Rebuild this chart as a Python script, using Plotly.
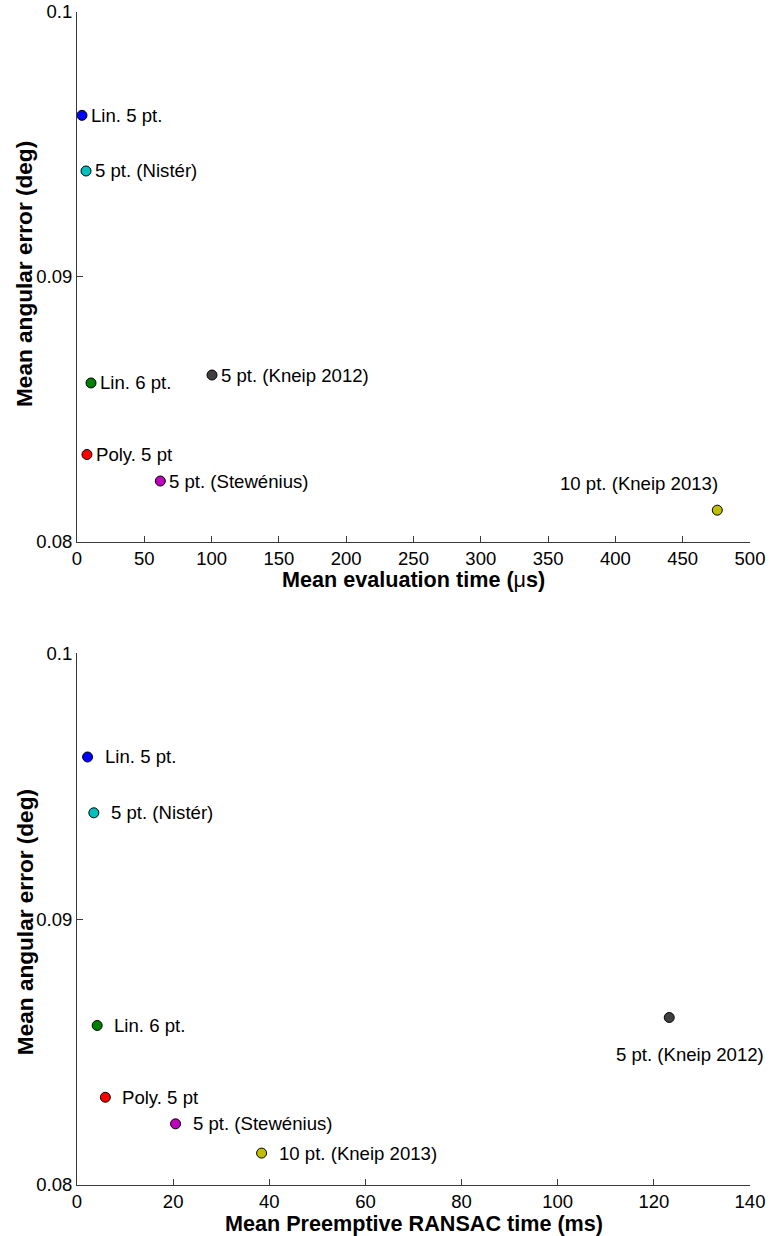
import plotly.graph_objects as go

# ---- data ----
methods = ["Lin. 5 pt.", "5 pt. (Nistér)", "Lin. 6 pt.", "5 pt. (Kneip 2012)",
           "Poly. 5 pt", "5 pt. (Stewénius)", "10 pt. (Kneip 2013)"]
colors = ["#0000FF", "#00BFBF", "#008000", "#404040", "#FF0000", "#BF00BF", "#BFBF00"]
angular_error = [0.0961, 0.0940, 0.0860, 0.0863, 0.0833, 0.0823, 0.0812]
eval_time_us = [3.7, 6.7, 10.4, 100.3, 7.4, 61.9, 475.7]
ransac_time_ms = [2.2, 3.5, 4.2, 123.2, 5.9, 20.5, 38.4]

x1_ticks = [0, 50, 100, 150, 200, 250, 300, 350, 400, 450, 500]
x2_ticks = [0, 20, 40, 60, 80, 100, 120, 140]
y_ticks = [0.08, 0.09, 0.1]
y_ticktext = ["0.08", "0.09", "0.1"]

x1_title = "<b>Mean evaluation time (</b>μ<b>s)</b>"
x2_title = "<b>Mean Preemptive RANSAC time (ms)</b>"
y_title = "<b>Mean angular error (deg)</b>"

FONT = "Liberation Sans, Arial, Helvetica, sans-serif"
AX = "#3a3a3a"

fig = go.Figure()
for i, m in enumerate(methods):
    fig.add_trace(go.Scatter(x=[eval_time_us[i]], y=[angular_error[i]], mode="markers",
                             marker=dict(size=10, color=colors[i], line=dict(color="black", width=1)),
                             xaxis="x", yaxis="y", showlegend=False, cliponaxis=False))
    fig.add_trace(go.Scatter(x=[ransac_time_ms[i]], y=[angular_error[i]], mode="markers",
                             marker=dict(size=10, color=colors[i], line=dict(color="black", width=1)),
                             xaxis="x2", yaxis="y2", showlegend=False, cliponaxis=False))

# label placement (pixel offsets relative to the markers)
top_off = {m: dict(xanchor="left", xshift=7, yshift=0) for m in methods}
top_off["10 pt. (Kneip 2013)"] = dict(xanchor="right", xshift=3, yshift=27)
bot_off = {m: dict(xanchor="left", xshift=15, yshift=0) for m in methods}
bot_off["5 pt. (Kneip 2012)"] = dict(xanchor="right", xshift=97, yshift=-37)

LABEL_SIZE = 18.6
annotations = []
for i, m in enumerate(methods):
    annotations.append(dict(x=eval_time_us[i], y=angular_error[i], xref="x", yref="y",
                            text=m, showarrow=False, yanchor="middle",
                            font=dict(family=FONT, size=LABEL_SIZE, color="black"), **top_off[m]))
    annotations.append(dict(x=ransac_time_ms[i], y=angular_error[i], xref="x2", yref="y2",
                            text=m, showarrow=False, yanchor="middle",
                            font=dict(family=FONT, size=LABEL_SIZE, color="black"), **bot_off[m]))

xt_font = dict(family=FONT, size=21.6, color="black")
yt_font = dict(family=FONT, size=22.6, color="black")
# axis titles
annotations += [
    dict(text=x1_title, xref="x domain", yref="y domain", x=0.5, y=0, xanchor="center",
         yanchor="middle", yshift=-38, showarrow=False, font=xt_font),
    dict(text=x2_title, xref="x2 domain", yref="y2 domain", x=0.5, y=0, xanchor="center",
         yanchor="middle", yshift=-38, showarrow=False, font=xt_font),
    dict(text=y_title, xref="x domain", yref="y domain", x=0, y=0.5, xanchor="center",
         yanchor="middle", xshift=-52, yshift=3, textangle=-90, showarrow=False, font=yt_font),
    dict(text=y_title, xref="x2 domain", yref="y2 domain", x=0, y=0.5, xanchor="center",
         yanchor="middle", xshift=-52, yshift=-3, textangle=-90, showarrow=False, font=yt_font),
]

axis_common = dict(showgrid=False, zeroline=False, showline=True, linecolor=AX, linewidth=1,
                   ticks="inside", ticklen=6, tickcolor=AX, tickwidth=1, mirror=False,
                   automargin=False, tickfont=dict(family=FONT, size=18.5, color="black"))

fig.update_layout(
    width=770, height=1236,
    margin=dict(l=77, r=19.5, t=12, b=51, autoexpand=False),
    paper_bgcolor="white", plot_bgcolor="white",
    font=dict(family=FONT, color="black"),
    annotations=annotations,
    xaxis=dict(range=[0, 500], tickvals=x1_ticks, anchor="y", domain=[0, 1], **axis_common),
    yaxis=dict(range=[0.08, 0.1], tickvals=y_ticks, ticktext=y_ticktext, anchor="x",
               domain=[0.5482, 1.0], **axis_common),
    xaxis2=dict(range=[0, 140], tickvals=x2_ticks, anchor="y2", domain=[0, 1], **axis_common),
    yaxis2=dict(range=[0.08, 0.1], tickvals=y_ticks, ticktext=y_ticktext, anchor="x2",
                domain=[0.0, 0.4533], **axis_common),
)

fig.write_html("out.html")
